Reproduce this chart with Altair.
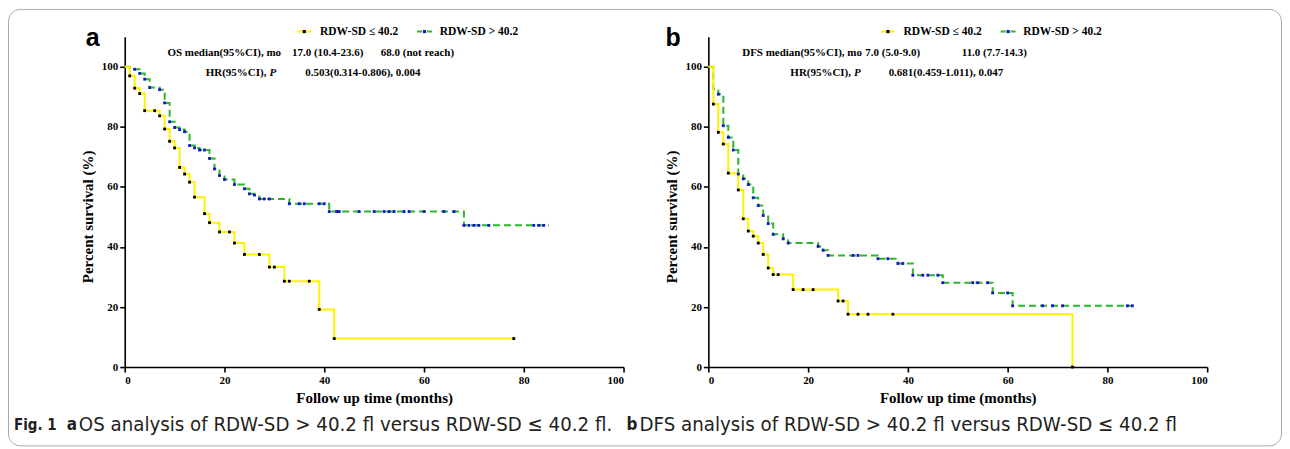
import altair as alt
import pandas as pd

# ---------------- data ----------------
# Panel a: overall survival
a_low_t = [0, 1, 2, 3, 4, 7, 8, 9, 10, 11, 12, 13, 14, 16, 17, 19, 22, 24, 29, 32, 39, 42, 78]
a_low_s = [100, 97.0, 92.9, 91.1, 85.4, 83.7, 79.3, 75.2, 73.0, 66.5, 64.3, 61.6, 56.6, 51.1,
           48.1, 45.0, 41.3, 37.5, 33.3, 28.6, 19.2, 9.5, 9.5]
a_low_marks = [1, 2, 3, 4, 6, 7, 8, 9, 10, 11, 12, 13, 14, 16, 17, 19, 21, 22, 24, 27, 29, 30,
               32, 33, 37, 39, 42, 78]

a_high_t = [0, 1, 3, 4, 5, 7, 8, 9, 10, 11, 12, 13, 14, 15, 17, 18, 19, 20, 22, 24, 25, 26, 27,
            33, 41, 68, 85]
a_high_s = [100, 99.2, 97.8, 95.9, 93.1, 92.4, 88.0, 81.7, 79.8, 79.1, 78.4, 73.8, 73.0, 72.3,
            69.5, 66.0, 63.8, 62.5, 60.8, 59.4, 57.7, 57.3, 56.0, 54.4, 51.8, 47.2, 47.2]
a_high_marks = [2, 3, 4, 5, 7, 8, 9, 10, 11, 12, 13, 14, 15, 16, 17, 18, 19, 20, 22, 24, 25, 26,
                27, 28, 29, 33, 35, 36, 39, 40, 41, 42.5, 43, 47, 50, 52, 53, 54, 56, 57, 60, 64,
                66, 68, 69, 70, 71, 73, 82, 83, 84]

# Panel b: disease-free survival
b_low_t = [0, 1, 2, 3, 4, 6, 7, 8, 9, 10, 11, 12, 13, 17, 26, 28, 73]
b_low_s = [100, 87.6, 78.2, 74.3, 64.6, 59.0, 49.4, 45.3, 43.6, 41.3, 37.5, 33.0, 30.8, 25.8,
           22.0, 17.6, 0]
b_low_marks = [1, 2, 3, 4, 6, 7, 8, 9, 10, 11, 12, 13, 14, 17, 19, 21, 26, 27, 28, 30, 32, 37, 73]

b_high_t = [0, 1, 2, 3, 4, 5, 6, 7, 8, 9, 10, 11, 12, 13, 15, 16, 22, 23, 24, 34, 38, 41, 47,
            57, 61, 85]
b_high_s = [100, 92.6, 90.9, 80.4, 76.5, 72.3, 64.3, 62.7, 60.8, 56.4, 53.8, 50.5, 47.8, 44.2,
            42.7, 41.3, 40.2, 38.9, 37.2, 36.1, 34.5, 30.6, 28.1, 24.7, 20.4, 20.4]
b_high_marks = [2, 3, 4, 5, 6, 7, 8, 9, 10, 11, 12, 13, 15, 16, 22, 23, 24, 29, 30, 34, 36, 38,
                39, 41, 43, 44, 46, 47, 53, 54, 56, 57, 60, 61, 67, 69, 71, 84, 85]

x_ticks = [0, 20, 40, 60, 80, 100]
y_ticks = [0, 20, 40, 60, 80, 100]

legend_low = "RDW-SD ≤ 40.2"
legend_high = "RDW-SD > 40.2"

# ---------------- styling ----------------
SERIF = "Liberation Serif"
YELLOW = "#FFF200"
GREEN = "#2DB52D"
BLUE = "#1414C8"
W, H = 500, 331


def km_value(ts, ss, t):
    v = ss[0]
    for ti, si in zip(ts, ss):
        if ti <= t:
            v = si
    return v


def curve_df(ts, ss):
    return pd.DataFrame({"t": ts, "s": ss})


def marks_df(ts, ss, mt):
    return pd.DataFrame({"t": mt, "s": [km_value(ts, ss, m) for m in mt]})


one = pd.DataFrame({"k": [0]})


def txt(s, x, y, size=11, align="left", weight="bold", style="normal", font=SERIF,
        color="black", baseline="middle"):
    return alt.Chart(one).mark_text(
        text=s, font=font, fontSize=size, fontWeight=weight, fontStyle=style,
        align=align, baseline=baseline, color=color
    ).encode(x=alt.value(x), y=alt.value(y))


def seg(x1, x2, y, color, dash=None, width=2):
    kw = dict(color=color, strokeWidth=width)
    if dash:
        kw["strokeDash"] = dash
    return alt.Chart(one).mark_rule(**kw).encode(
        x=alt.value(x1), x2=alt.value(x2), y=alt.value(y))


def dot(x, y, color):
    return alt.Chart(one).mark_square(size=10, color=color, opacity=1).encode(
        x=alt.value(x), y=alt.value(y))


def panel(low_t, low_s, low_m, high_t, high_s, high_m, extra):
    xs = alt.X("t:Q", scale=alt.Scale(domain=[0, 100], nice=False),
               axis=alt.Axis(values=x_ticks, title="Follow up time (months)",
                             titleX=W / 2, titleY=31, titleBaseline="middle"))
    ys = alt.Y("s:Q", scale=alt.Scale(domain=[0, 110], nice=False),
               axis=alt.Axis(values=y_ticks, title="Percent survival (%)",
                             titleX=-37, titleY=180, titleAngle=-90,
                             titleAlign="center", titleBaseline="middle"))
    high_line = alt.Chart(curve_df(high_t, high_s)).mark_line(
        interpolate="step-after", color=GREEN, strokeWidth=2, strokeDash=[7, 4]
    ).encode(x=xs, y=ys)
    low_line = alt.Chart(curve_df(low_t, low_s)).mark_line(
        interpolate="step-after", color=YELLOW, strokeWidth=2
    ).encode(x="t:Q", y="s:Q")
    low_pts = alt.Chart(marks_df(low_t, low_s, low_m)).mark_square(
        size=8, color="black", opacity=1).encode(x="t:Q", y="s:Q")
    high_pts = alt.Chart(marks_df(high_t, high_s, high_m)).mark_square(
        size=8, color=BLUE, opacity=1).encode(x="t:Q", y="s:Q")
    legend = [
        seg(173, 187, -5.3, YELLOW), dot(180, -5.3, "black"),
        txt(legend_low, 195.7, -5.3, size=11.5),
        seg(293, 308, -5.3, GREEN, dash=[5, 5]), dot(300.5, -5.3, BLUE),
        txt(legend_high, 315.7, -5.3, size=11.5),
    ]
    return alt.layer(high_line, low_line, low_pts, high_pts, *legend, *extra).properties(
        width=W, height=H)


CAP = "DejaVu Sans Condensed"
CAPC = "#231F20"
CAPY = 389
extra_a = [
    alt.Chart(one).mark_rect(fillOpacity=0, stroke="#A8A8A8", strokeWidth=1,
                             cornerRadius=12).encode(
        x=alt.value(-116.5), x2=alt.value(1159.5), y=alt.value(-27.5), y2=alt.value(410)),
    txt("a", -39, 9.5, size=25, font="Liberation Sans", baseline="alphabetic"),
    txt("OS median(95%CI), mo", 156.7, 16.3, align="right"),
    txt("17.0 (10.4-23.6)", 167.7, 16.3),
    txt("68.0 (not reach)", 256.7, 16.3),
    txt("HR(95%CI),", 142, 36.3, align="right"),
    txt("P", 145, 36.3, style="italic"),
    txt("0.503(0.314-0.806), 0.004", 181, 36.3),
    txt("Fig. 1", -111, CAPY, size=15, font=CAP, color=CAPC),
    txt("a", -58, CAPY, size=17, font=CAP, color=CAPC),
    txt("OS analysis of RDW-SD > 40.2 fl versus RDW-SD ≤ 40.2 fl.", -46, CAPY, size=20.3,
        font=CAP, weight="normal", color=CAPC),
    txt("b", 503, CAPY, size=17, font=CAP, color=CAPC),
    txt("DFS analysis of RDW-SD > 40.2 fl versus RDW-SD ≤ 40.2 fl", 516, CAPY, size=20.3,
        font=CAP, weight="normal", color=CAPC),
]
extra_b = [
    txt("b", -43, 9.5, size=25, font="Liberation Sans", baseline="alphabetic"),
    txt("DFS median(95%CI), mo", 154, 16.3, align="right"),
    txt("7.0 (5.0-9.0)", 157.3, 16.3),
    txt("11.0 (7.7-14.3)", 254, 16.3),
    txt("HR(95%CI),", 143, 36.3, align="right"),
    txt("P", 146, 36.3, style="italic"),
    txt("0.681(0.459-1.011), 0.047", 180.7, 36.3),
]

pa = panel(a_low_t, a_low_s, a_low_marks, a_high_t, a_high_s, a_high_marks, extra_a)
pb = panel(b_low_t, b_low_s, b_low_marks, b_high_t, b_high_s, b_high_marks, extra_b)

chart = alt.hconcat(pa, pb, spacing=85, bounds="flush").properties(
    autosize=alt.AutoSizeParams(type="none"),
    padding={"left": 117, "top": 28, "right": 1160, "bottom": 411},
).configure_view(stroke=None).configure_axis(
    grid=False, domainColor="black", domainWidth=1.6, tickColor="black", tickWidth=1.6,
    tickSize=5, labelFont=SERIF, labelFontWeight="bold", labelFontSize=11,
    labelColor="black", labelPadding=2, titleFont=SERIF, titleFontWeight="bold",
    titleFontSize=15, titleColor="black"
).configure_text(fontWeight="bold")

chart.save("out.html", embed_options={"renderer": "svg", "actions": False})
